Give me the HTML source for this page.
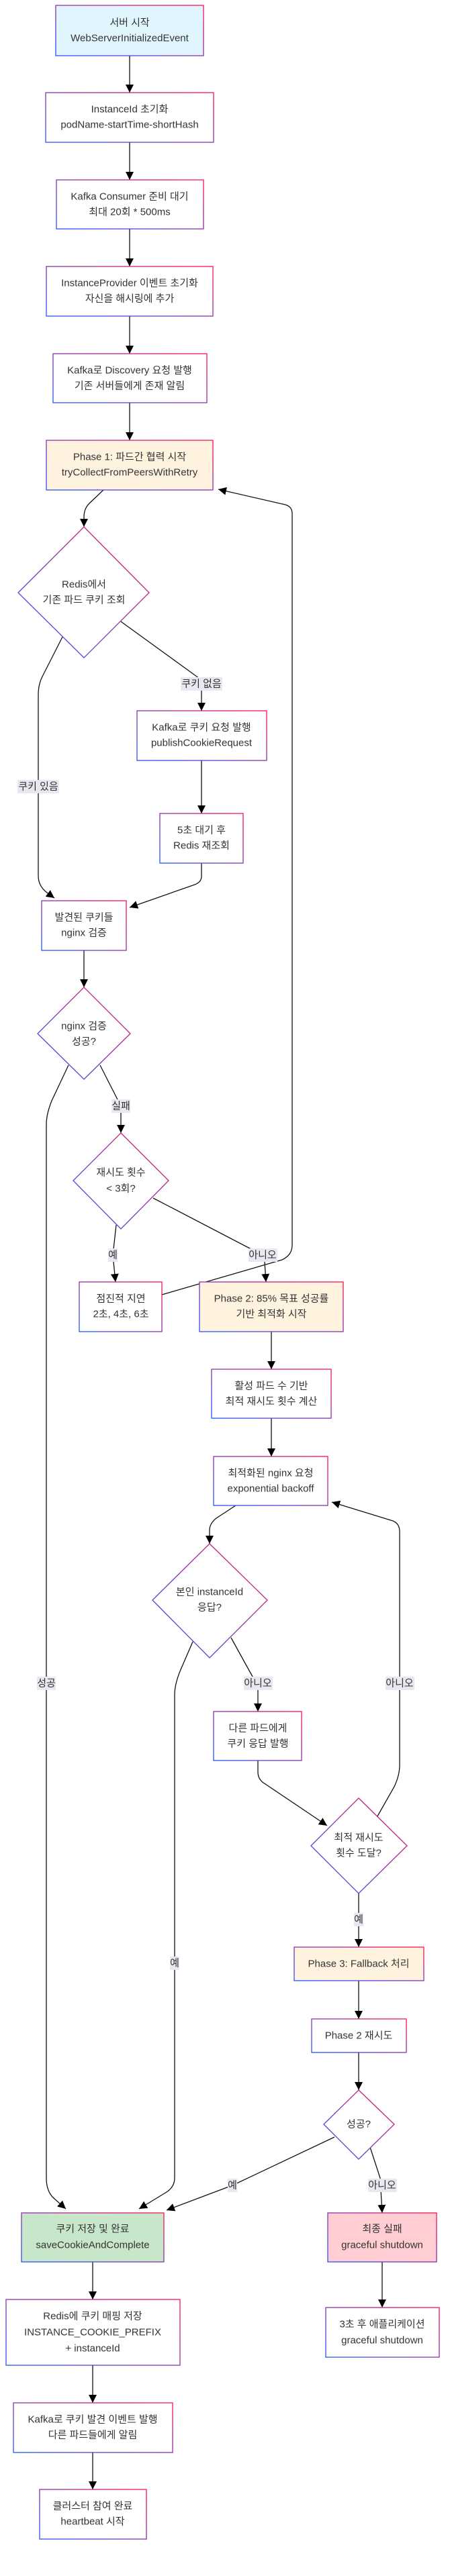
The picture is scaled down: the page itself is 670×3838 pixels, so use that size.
<!DOCTYPE html>
<html><head><meta charset="utf-8"><style>
html,body{margin:0;padding:0;background:#fff}
svg{display:block}
text{font-family:"Liberation Sans","Noto Sans CJK KR",sans-serif;font-size:15px;fill:#333;text-anchor:middle;dominant-baseline:central}
.n{stroke:url(#g);stroke-width:1.3}
.e{fill:none;stroke:#111;stroke-width:1.3}
.lb{fill:#e8e8f0}
</style></head><body>
<svg width="670" height="3838" viewBox="0 0 670 3838" xmlns="http://www.w3.org/2000/svg">
<defs>
<linearGradient id="g" x1="0" y1="1" x2="1" y2="0"><stop offset="0" stop-color="#2255ff"/><stop offset="0.5" stop-color="#8833aa"/><stop offset="1" stop-color="#ff1155"/></linearGradient>
<marker id="a" viewBox="0 0 10 10" refX="10" refY="5" markerWidth="12" markerHeight="12" markerUnits="userSpaceOnUse" orient="auto"><path d="M0,0L10,5L0,10z" fill="#000"/></marker>
</defs>
<g class="edges" marker-end="url(#a)">
<path class="e" d="M193,83L193,138" marker-end="url(#a)"/>
<path class="e" d="M193,212L193,268" marker-end="url(#a)"/>
<path class="e" d="M193,341L193,397" marker-end="url(#a)"/>
<path class="e" d="M193,471L193,527" marker-end="url(#a)"/>
<path class="e" d="M193,600L193,656" marker-end="url(#a)"/>
<path class="e" d="M154,730L133,750Q125,758 125,770L125,785" marker-end="url(#a)"/>
<path class="e" d="M180,926L293,1008Q300,1013 300,1022L300,1059" marker-end="url(#a)"/>
<path class="e" d="M300,1133L300,1212" marker-end="url(#a)"/>
<path class="e" d="M300,1286L300,1306Q300,1314 290,1318L193,1352" marker-end="url(#a)"/>
<path class="e" d="M93,949L63,1008Q57,1020 57,1035L57,1305Q57,1320 70,1330L81,1338" marker-end="url(#a)"/>
<path class="e" d="M125,1416L125,1471" marker-end="url(#a)"/>
<path class="e" d="M149,1587L180,1648L180,1688" marker-end="url(#a)"/>
<path class="e" d="M173,1825L168,1870L172,1910" marker-end="url(#a)"/>
<path class="e" d="M228,1785L372,1860Q390,1870 394,1880L396,1910" marker-end="url(#a)"/>
<path class="e" d="M241,1929L420,1877Q435,1870 435,1855L435,765Q435,755 425,752L325,729" marker-end="url(#a)"/>
<path class="e" d="M404,1984L404,2040" marker-end="url(#a)"/>
<path class="e" d="M404,2113L404,2170" marker-end="url(#a)"/>
<path class="e" d="M351,2243L322,2262Q312,2270 312,2280L312,2300" marker-end="url(#a)"/>
<path class="e" d="M344,2440L376,2498L384,2510L384,2550" marker-end="url(#a)"/>
<path class="e" d="M384,2623L384,2640Q384,2652 395,2658L487,2720" marker-end="url(#a)"/>
<path class="e" d="M562,2706L587,2662Q595,2645 595,2630L595,2282Q595,2270 585,2266L494,2238" marker-end="url(#a)"/>
<path class="e" d="M534,2821L534,2901" marker-end="url(#a)"/>
<path class="e" d="M534,2951L534,3008" marker-end="url(#a)"/>
<path class="e" d="M534,3058L534,3114" marker-end="url(#a)"/>
<path class="e" d="M498,3184L346,3256L248,3293" marker-end="url(#a)"/>
<path class="e" d="M550,3196L566,3245L569,3297" marker-end="url(#a)"/>
<path class="e" d="M102,1587L77,1640Q69,1660 69,1675L69,3245Q69,3265 80,3275L98,3291" marker-end="url(#a)"/>
<path class="e" d="M287,2446L268,2490Q260,2510 260,2525L260,3245Q260,3258 248,3266L207,3291" marker-end="url(#a)"/>
<path class="e" d="M138,3370L138,3426" marker-end="url(#a)"/>
<path class="e" d="M138,3524L138,3580" marker-end="url(#a)"/>
<path class="e" d="M138,3654L138,3709" marker-end="url(#a)"/>
<path class="e" d="M569,3370L569,3438" marker-end="url(#a)"/>
</g>
<!-- edge labels -->
<rect class="lb" x="269" y="1009" width="62" height="20"/><text x="300" y="1019">쿠키 없음</text>
<rect class="lb" x="26" y="1162" width="62" height="20"/><text x="57" y="1172">쿠키 있음</text>
<rect class="lb" x="166" y="1638" width="28" height="20"/><text x="180" y="1648">실패</text>
<rect class="lb" x="161" y="1860" width="14" height="20"/><text x="168" y="1870">예</text>
<rect class="lb" x="370" y="1860" width="43" height="20"/><text x="391" y="1870">아니오</text>
<rect class="lb" x="55" y="2498" width="28" height="20"/><text x="69" y="2508">성공</text>
<rect class="lb" x="363" y="2498" width="43" height="20"/><text x="384" y="2508">아니오</text>
<rect class="lb" x="574" y="2498" width="43" height="20"/><text x="595" y="2508">아니오</text>
<rect class="lb" x="527" y="2850" width="14" height="20"/><text x="534" y="2860">예</text>
<rect class="lb" x="253" y="2915" width="14" height="20"/><text x="260" y="2925">예</text>
<rect class="lb" x="339" y="3246" width="14" height="20"/><text x="346" y="3256">예</text>
<rect class="lb" x="548" y="3246" width="43" height="20"/><text x="569" y="3256">아니오</text>
<!-- nodes -->
<rect class="n" x="83" y="8" width="220" height="75" fill="#e1f5fe"/><text x="193" y="34">서버 시작</text><text x="193" y="57">WebServerInitializedEvent</text>
<rect class="n" x="68" y="138" width="250" height="74" fill="#fff"/><text x="193" y="163">InstanceId 초기화</text><text x="193" y="186">podName-startTime-shortHash</text>
<rect class="n" x="84" y="268" width="219" height="73" fill="#fff"/><text x="193" y="293">Kafka Consumer 준비 대기</text><text x="193" y="316">최대 20회 * 500ms</text>
<rect class="n" x="69" y="397" width="248" height="74" fill="#fff"/><text x="193" y="422">InstanceProvider 이벤트 초기화</text><text x="193" y="445">자신을 해시링에 추가</text>
<rect class="n" x="79" y="527" width="229" height="73" fill="#fff"/><text x="193" y="552">Kafka로 Discovery 요청 발행</text><text x="193" y="575">기존 서버들에게 존재 알림</text>
<rect class="n" x="69" y="656" width="248" height="74" fill="#fff3e0"/><text x="193" y="681">Phase 1: 파드간 협력 시작</text><text x="193" y="704">tryCollectFromPeersWithRetry</text>
<path class="n" d="M125,785L222,883L125,980L27,883z" fill="#fff"/><text x="125" y="871">Redis에서</text><text x="125" y="894">기존 파드 쿠키 조회</text>
<rect class="n" x="204" y="1059" width="193" height="74" fill="#fff"/><text x="300" y="1084">Kafka로 쿠키 요청 발행</text><text x="300" y="1107">publishCookieRequest</text>
<rect class="n" x="238" y="1212" width="124" height="74" fill="#fff"/><text x="300" y="1237">5초 대기 후</text><text x="300" y="1260">Redis 재조회</text>
<rect class="n" x="62" y="1342" width="126" height="74" fill="#fff"/><text x="125" y="1367">발견된 쿠키들</text><text x="125" y="1390">nginx 검증</text>
<path class="n" d="M125,1471L194,1540L125,1608L56,1540z" fill="#fff"/><text x="125" y="1529">nginx 검증</text><text x="125" y="1552">성공?</text>
<path class="n" d="M180,1688L251,1759L180,1831L109,1759z" fill="#fff"/><text x="180" y="1747">재시도 횟수</text><text x="180" y="1771">&lt; 3회?</text>
<rect class="n" x="118" y="1910" width="123" height="74" fill="#fff"/><text x="180" y="1935">점진적 지연</text><text x="180" y="1958">2초, 4초, 6초</text>
<rect class="n" x="297" y="1910" width="214" height="74" fill="#fff3e0"/><text x="404" y="1935">Phase 2: 85% 목표 성공률</text><text x="404" y="1958">기반 최적화 시작</text>
<rect class="n" x="315" y="2040" width="178" height="73" fill="#fff"/><text x="404" y="2065">활성 파드 수 기반</text><text x="404" y="2088">최적 재시도 횟수 계산</text>
<rect class="n" x="318" y="2170" width="170" height="73" fill="#fff"/><text x="403" y="2195">최적화된 nginx 요청</text><text x="403" y="2218">exponential backoff</text>
<path class="n" d="M312,2300L398,2384L312,2470L227,2384z" fill="#fff"/><text x="312" y="2372">본인 instanceId</text><text x="312" y="2395">응답?</text>
<rect class="n" x="318" y="2550" width="131" height="73" fill="#fff"/><text x="384" y="2575">다른 파드에게</text><text x="384" y="2598">쿠키 응답 발행</text>
<path class="n" d="M534,2679L606,2750L534,2821L463,2750z" fill="#fff"/><text x="534" y="2738">최적 재시도</text><text x="534" y="2761">횟수 도달?</text>
<rect class="n" x="438" y="2901" width="193" height="50" fill="#fff3e0"/><text x="534" y="2926">Phase 3: Fallback 처리</text>
<rect class="n" x="464" y="3008" width="141" height="50" fill="#fff"/><text x="534" y="3033">Phase 2 재시도</text>
<path class="n" d="M534,3114L587,3165L534,3217L482,3165z" fill="#fff"/><text x="534" y="3165">성공?</text>
<rect class="n" x="32" y="3297" width="212" height="73" fill="#c8e6c9"/><text x="138" y="3321">쿠키 저장 및 완료</text><text x="138" y="3345">saveCookieAndComplete</text>
<rect class="n" x="488" y="3297" width="162" height="73" fill="#ffcdd2"/><text x="569" y="3321">최종 실패</text><text x="569" y="3345">graceful shutdown</text>
<rect class="n" x="9" y="3426" width="259" height="98" fill="#fff"/><text x="138" y="3451">Redis에 쿠키 매핑 저장</text><text x="138" y="3475">INSTANCE_COOKIE_PREFIX</text><text x="138" y="3499">+ instanceId</text>
<rect class="n" x="485" y="3438" width="169" height="74" fill="#fff"/><text x="569" y="3463">3초 후 애플리케이션</text><text x="569" y="3487">graceful shutdown</text>
<rect class="n" x="20" y="3580" width="237" height="74" fill="#fff"/><text x="138" y="3605">Kafka로 쿠키 발견 이벤트 발행</text><text x="138" y="3628">다른 파드들에게 알림</text>
<rect class="n" x="59" y="3709" width="159" height="74" fill="#fff"/><text x="138" y="3734">클러스터 참여 완료</text><text x="138" y="3757">heartbeat 시작</text>
</svg>
</body></html>
